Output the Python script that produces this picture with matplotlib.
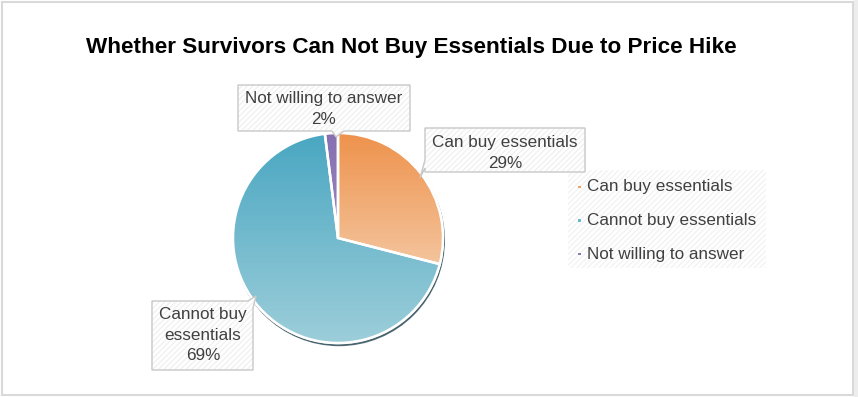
import numpy as np
import matplotlib.pyplot as plt
from matplotlib.patches import Polygon, Rectangle, Circle, Wedge
from matplotlib.colors import to_rgb

labels = ["Can buy essentials", "Cannot buy essentials", "Not willing to answer"]
shares = [29, 69, 2]
callout_text = ["Can buy essentials\n29%", "Cannot buy\nessentials\n69%", "Not willing to answer\n2%"]
title = "Whether Survivors Can Not Buy Essentials Due to Price Hike"

# top / bottom gradient colours per slice
grad_top = ["#EE924C", "#4AA7C2", "#8670B0"]
grad_bot = ["#F4C49C", "#9DCEDA", "#9A88C0"]
legend_cols = ["#F0A060", "#6CB8CC", "#8E78B5"]

W, H = 858, 397
plt.rcParams['font.family'] = ['Liberation Sans', 'DejaVu Sans']
fig = plt.figure(figsize=(W / 100, H / 100), dpi=100)
ax = fig.add_axes([0, 0, 1, 1])


def yy(y):
    # work in pixel rows measured from the top
    return H - y


cx, cy, r = 338, yy(238), 105

# thin shadow under the pie
ax.add_patch(Circle((cx + 1, cy - 2.2), r + 0.3, color="#34525E", alpha=0.8, zorder=1))

wedges, _ = ax.pie(shares, center=(cx, cy), radius=r, startangle=90, counterclock=False,
                   wedgeprops=dict(edgecolor="white", linewidth=1.8), frame=True)

ax.set_xlim(0, W)
ax.set_ylim(0, H)
ax.set_aspect("auto")
ax.set_autoscale_on(False)
ax.axis("off")

for w, c0, c1 in zip(wedges, grad_top, grad_bot):
    w.set_facecolor("none")
    # vertical span of the slice, sampled along its outline
    verts = w.get_path().vertices
    ys = verts[:, 1]
    y0, y1 = ys.min(), ys.max()
    a, b = np.array(to_rgb(c0)), np.array(to_rgb(c1))
    t = np.linspace(0, 1, 64)[:, None]
    img = (a * (1 - t) + b * t)[:, None, :]
    im = ax.imshow(img, extent=(cx - r, cx + r, y0, y1), origin="upper", aspect="auto",
                   interpolation="bilinear", zorder=2)
    clip = Wedge((cx, cy), r, w.theta1, w.theta2, transform=ax.transData)
    im.set_clip_path(clip)
    ax.add_patch(Wedge((cx, cy), r, w.theta1, w.theta2, facecolor="none",
                       edgecolor="white", linewidth=1.8, zorder=3))


def callout(pts, zorder=4):
    pts = [(x, yy(y)) for x, y in pts]
    ax.add_patch(Polygon(pts, closed=True, facecolor="white", edgecolor="#F1F1F1",
                         hatch="//////", linewidth=0, zorder=zorder))
    ax.add_patch(Polygon(pts, closed=True, facecolor="none", edgecolor="#C8C8C8",
                         linewidth=1.0, zorder=zorder + 0.1))


# data label boxes with pointers toward their slices
callout([(238, 85), (410, 85), (410, 131), (344, 131), (336, 137), (332, 131), (238, 131)])
callout([(425, 128), (585, 128), (585, 172), (425, 172), (425, 168), (420, 178), (425, 160)])
callout([(152, 301), (248, 301), (256, 296), (253, 308), (253, 370), (152, 370)])

txt = dict(color="#404040", fontsize=12.3, ha="center", va="center", linespacing=1.45, zorder=6)
ax.text(505, yy(153), callout_text[0], **txt)
ax.text(203, yy(335), callout_text[1], **txt)
ax.text(324, yy(109), callout_text[2], **txt)

# legend block
ax.add_patch(Rectangle((568, yy(268)), 198, 98, facecolor="white", edgecolor="#F3F3F3",
                       hatch="//////", linewidth=0, zorder=1))
for i, (lab, col) in enumerate(zip(labels, legend_cols)):
    ly = yy(187 + 33.5 * i)
    ax.add_patch(Rectangle((578, ly - 1.2), 2.5, 2.5, facecolor=col, edgecolor="none", zorder=5))
    ax.text(587, ly, lab, color="#404040", fontsize=12.3, ha="left", va="center", zorder=6)

ax.text(411, yy(47), title, fontsize=16.2, fontweight="bold", color="black",
        ha="center", va="center", zorder=6)

# outer frame
ax.add_patch(Rectangle((1.5, yy(395)), 851, 393, facecolor="none", edgecolor="#D9D9D9",
                       linewidth=1.5, zorder=7))
ax.add_patch(Rectangle((853.5, 0), 5, H, facecolor="#EDEDED", edgecolor="none", zorder=7))

fig.savefig("out.png", dpi=100)
